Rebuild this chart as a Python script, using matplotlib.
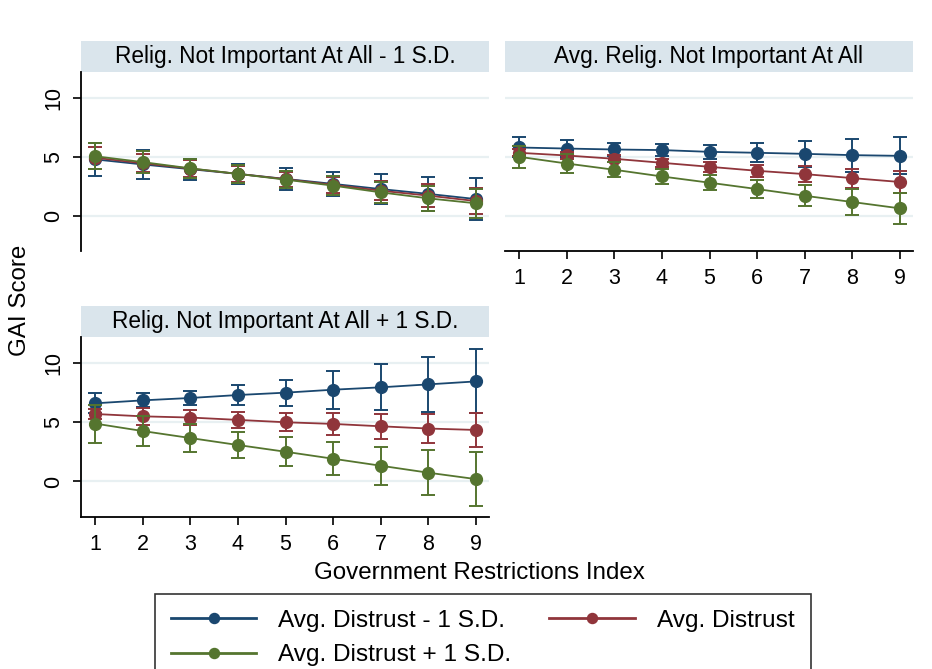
import matplotlib
matplotlib.use("Agg")
import matplotlib.pyplot as plt
from matplotlib.patches import Rectangle

plt.rcParams['font.family'] = ['Liberation Sans', 'DejaVu Sans']

x = [1, 2, 3, 4, 5, 6, 7, 8, 9]
panel_titles = ["Relig. Not Important At All - 1 S.D.",
                "Avg. Relig. Not Important At All",
                "Relig. Not Important At All + 1 S.D."]
series_labels = ["Avg. Distrust - 1 S.D.", "Avg. Distrust", "Avg. Distrust + 1 S.D."]

# Panel 1: Relig. - 1 SD
p1_low = [4.78, 4.35, 3.95, 3.55, 3.12, 2.70, 2.26, 1.85, 1.41]
p1_low_err = [1.40, 1.20, 0.90, 0.85, 0.90, 1.00, 1.25, 1.45, 1.75]
p1_avg = [4.92, 4.45, 4.00, 3.55, 3.10, 2.62, 2.12, 1.70, 1.24]
p1_avg_err = [0.93, 0.75, 0.75, 0.70, 0.65, 0.70, 0.80, 0.95, 1.10]
p1_high = [5.05, 4.55, 4.02, 3.55, 3.06, 2.55, 1.98, 1.47, 1.05]
p1_high_err = [1.08, 0.95, 0.80, 0.75, 0.75, 0.80, 0.90, 1.05, 1.25]

# Panel 2: Avg. Relig.
p2_low = [5.79, 5.70, 5.62, 5.57, 5.42, 5.34, 5.25, 5.14, 5.08]
p2_low_err = [0.85, 0.70, 0.57, 0.50, 0.62, 0.82, 1.08, 1.40, 1.56]
p2_avg = [5.34, 5.11, 4.83, 4.49, 4.15, 3.81, 3.53, 3.19, 2.86]
p2_avg_err = [0.30, 0.30, 0.30, 0.35, 0.40, 0.50, 0.65, 0.80, 0.90]
p2_high = [5.00, 4.43, 3.90, 3.33, 2.80, 2.26, 1.69, 1.16, 0.62]
p2_high_err = [0.95, 0.80, 0.65, 0.65, 0.62, 0.74, 0.90, 1.10, 1.30]

# Panel 3: Relig. + 1 SD
p3_low = [6.60, 6.85, 7.05, 7.30, 7.50, 7.75, 7.95, 8.20, 8.45]
p3_low_err = [0.85, 0.60, 0.60, 0.85, 1.10, 1.60, 1.95, 2.30, 2.70]
p3_avg = [5.70, 5.50, 5.40, 5.20, 5.00, 4.86, 4.66, 4.47, 4.35]
p3_avg_err = [0.45, 0.70, 0.65, 0.65, 0.75, 0.90, 1.05, 1.25, 1.45]
p3_high = [4.89, 4.26, 3.67, 3.08, 2.51, 1.92, 1.33, 0.74, 0.20]
p3_high_err = [1.60, 1.30, 1.15, 1.10, 1.22, 1.40, 1.60, 1.90, 2.25]

colors = ["#1a476f", "#90353b", "#55752f"]
strip_color = "#dae5ec"
grid_color = "#e8f0f2"

W, H = 932, 669
fig = plt.figure(figsize=(W / 100, H / 100), dpi=100)

def frac(left, top, right, bottom):
    return [left / W, 1 - bottom / H, (right - left) / W, (bottom - top) / H]

ax1 = fig.add_axes(frac(81, 72, 489, 251))
ax2 = fig.add_axes(frac(505, 72, 913, 251))
ax3 = fig.add_axes(frac(81, 337, 489, 517))

panels = [
    (ax1, [(p1_low, p1_low_err), (p1_avg, p1_avg_err), (p1_high, p1_high_err)]),
    (ax2, [(p2_low, p2_low_err), (p2_avg, p2_avg_err), (p2_high, p2_high_err)]),
    (ax3, [(p3_low, p3_low_err), (p3_avg, p3_avg_err), (p3_high, p3_high_err)]),
]

handles = []
for i, (ax, series) in enumerate(panels):
    ax.set_xlim(0.706, 9.273)
    ax.set_ylim(-3.0, 12.2)
    for gy in [0, 5, 10]:
        ax.axhline(gy, color=grid_color, lw=1.6, zorder=0)
    for j, (vals, errs) in enumerate(series):
        ax.errorbar(x, vals, yerr=errs, fmt='none', ecolor=colors[j],
                    elinewidth=1.4, capsize=5, capthick=1.4, zorder=2 + j)
        h, = ax.plot(x, vals, '-o', color=colors[j], lw=1.3, ms=8.5, zorder=2 + j)
        if i == 0:
            handles.append(h)
    for s in ['top', 'right']:
        ax.spines[s].set_visible(False)
    ax.set_yticks([0, 5, 10])
    ax.set_xticks(x)
    ax.tick_params(axis='both', labelsize=15.5, length=6, width=1.2, pad=6,
                   direction='out', color='black')
    for lbl in ax.get_yticklabels():
        lbl.set_rotation(90)
        lbl.set_va('center')
    ax.spines['left'].set_linewidth(1.3)
    ax.spines['bottom'].set_linewidth(1.3)
    # strip title
    ax.add_patch(Rectangle((0, 1.0), 1, 31 / 179, transform=ax.transAxes,
                           facecolor=strip_color, edgecolor='none', clip_on=False))
    ax.text(0.5, 1.0 + 15.5 / 179, panel_titles[i], transform=ax.transAxes,
            ha='center', va='center', fontsize=16.3)

ax1.spines['bottom'].set_visible(False)
ax1.tick_params(axis='x', bottom=False, labelbottom=False)
ax2.spines['left'].set_visible(False)
ax2.tick_params(axis='y', left=False, labelleft=False)

fig.text(20 / W, 1 - 300 / H, "GAI Score", rotation=90, ha='center', va='center', fontsize=17.4)
fig.text(479 / W, 1 - 573 / H, "Government Restrictions Index", ha='center', va='center', fontsize=17.4)

# row-major order in a 2-column legend: blue, red / green
order = [0, 2, 1]
leg = fig.legend([handles[k] for k in order], [series_labels[k] for k in order],
                 ncol=2, loc='upper left',
                 bbox_to_anchor=(155 / W, 1 - 594 / H), fontsize=17.6,
                 frameon=True, fancybox=False, handlelength=3.5,
                 handletextpad=0.9, columnspacing=1.55, labelspacing=0.5,
                 borderpad=0.65, numpoints=1, markerscale=0.85,
                 borderaxespad=0)
leg.get_frame().set_edgecolor('black')
leg.get_frame().set_linewidth(1.2)
for lh in leg.get_lines():
    lh.set_linewidth(2)

fig.savefig("out.png", dpi=100)
